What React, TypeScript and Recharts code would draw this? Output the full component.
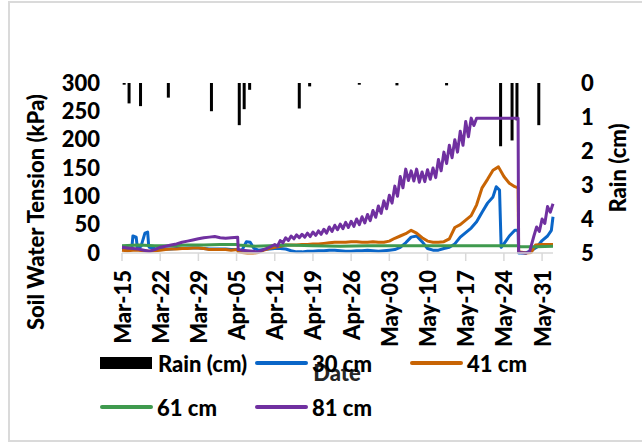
import React from 'react';
import { ComposedChart, Line, Bar, XAxis, YAxis, Legend } from 'recharts';

// ---- tick labels / categories ----
const dateTicks = [0, 7, 14, 21, 28, 35, 42, 49, 56, 63, 70, 77];
const dateLabels = ['Mar-15', 'Mar-22', 'Mar-29', 'Apr-05', 'Apr-12', 'Apr-19', 'Apr-26', 'May-03', 'May-10', 'May-17', 'May-24', 'May-31'];
const kpaTicks = [0, 50, 100, 150, 200, 250, 300];
const rainTicks = [0, 1, 2, 3, 4, 5];

// ---- rain (day since Mar-15, cm) ----
const rainDays = [0.4, 1.3, 3.4, 8.5, 16.4, 21.5, 22.4, 23.4, 32.5, 34.4, 43.5, 50.4, 59.5, 69.4, 71.5, 72.4, 76.4];
const rainCm = [0.05, 0.6, 0.68, 0.43, 0.83, 1.24, 0.77, 0.2, 0.75, 0.1, 0.05, 0.07, 0.07, 1.86, 1.69, 1.1, 1.24];

// ---- soil water tension (day, kPa) ----
const tension30: [number, number][] = [
  [0, 8], [1, 8], [1.8, 8], [2, 30], [2.6, 28], [2.8, 10], [3.5, 12], [4.2, 35], [4.7, 37], [4.9, 12], [5, 10], [6, 8], [7, 7], [8, 7], [9, 7], [10, 8],
  [11, 8], [12, 9], [13, 9], [14, 9], [15, 8], [16, 7], [17, 7], [18, 7], [19, 7], [20, 6], [21.2, 6], [21.3, 4], [22, 5], [22.8, 20], [23.5, 19],
  [24.2, 8], [25, 5], [26, 6], [27, 7], [28, 8], [29, 8], [30, 7], [31, 4], [32, 2], [33, 2], [34, 3], [35, 3], [36, 4], [37, 4], [38, 5], [39, 5],
  [40, 4], [41, 3], [42, 3], [43, 4], [44, 4], [45, 5], [46, 4], [47, 3], [48, 4], [49, 5], [50, 6], [51, 10], [52, 18], [53, 28], [54, 30], [55, 20],
  [56, 8], [57, 5], [58, 5], [59, 8], [60, 10], [61, 16], [62, 28], [63, 36], [64, 44], [65, 55], [66, 72], [67, 88], [68, 99], [68.6, 117], [69.2, 111],
  [69.5, 10], [70, 16], [71, 30], [72, 40], [72.6, 40], [72.7, 0], [74, 0], [75, 4], [76, 10], [77, 22], [78, 30], [78.7, 40], [79, 64],
];
const tension41: [number, number][] = [
  [0, 5], [1, 4], [2, 5], [3, 5], [4, 4], [5, 3], [6, 4], [7, 5], [8, 6], [9, 7], [10, 7], [11, 8], [12, 8], [13, 9], [14, 9], [15, 8], [16, 6], [17, 6],
  [18, 6], [19, 6], [20, 5], [21.2, 6], [21.3, 2], [22, 1], [23, 0], [24, 0], [25, 1], [26, 5], [27, 8], [28, 10], [29, 12], [30, 14], [31, 14], [32, 14],
  [33, 15], [34, 15], [35, 16], [36, 16], [37, 17], [38, 18], [39, 19], [40, 19], [41, 19], [42, 20], [43, 20], [44, 19], [45, 19], [46, 20], [47, 19],
  [48, 19], [49, 21], [50, 26], [51, 30], [52, 34], [53, 40], [54, 35], [55, 27], [56, 21], [57, 19], [58, 19], [59, 20], [60, 25], [61, 45], [62, 50],
  [63, 58], [64, 66], [65, 85], [66, 115], [67, 130], [68, 146], [69, 152], [70, 135], [71, 123], [72, 117], [72.6, 115], [72.7, 3], [73, 2], [74, 0],
  [75, 1], [75.8, 14], [77, 15], [78, 15], [79, 15],
];
const tension61: [number, number][] = [
  [0, 13], [3, 14], [6, 13], [9, 13], [12, 14], [15, 14], [18, 15], [21.2, 15], [21.3, 14], [24, 12], [27, 13], [30, 14], [35, 13], [40, 12], [45, 13],
  [50, 13], [55, 13], [60, 13], [65, 13], [70, 13], [72.6, 13], [73, 11], [76, 11], [79, 12],
];
const tension81: [number, number][] = [
  [0, 10], [1, 9], [2, 8], [3, 7], [4, 5], [5, 3], [6, 6], [7, 10], [8, 12], [9, 14], [10, 16], [11, 19], [12, 21], [13, 23], [14, 25], [15, 27], [16, 28],
  [17, 29], [18, 27], [19, 26], [20, 27], [21.2, 28], [21.3, 6], [22, 5], [23, 4], [24, 3], [25, 2], [26, 6], [27, 10],
  [28, 15], [28.5, 12], [29, 22], [29.5, 18], [30, 27], [30.5, 22], [31, 30], [31.5, 25], [32, 32], [32.5, 27], [33, 33], [33.5, 28], [34, 35], [34.5, 29],
  [35, 37], [35.5, 31], [36, 39], [36.5, 33], [37, 42], [37.5, 35], [38, 46], [38.5, 38], [39, 49], [39.5, 41], [40, 51], [40.5, 43], [41, 54], [41.5, 45],
  [42, 56], [42.5, 47], [43, 60], [43.5, 50], [44, 64], [44.5, 53], [45, 68], [45.5, 57], [46, 75], [46.5, 63], [47, 83], [47.5, 70], [48, 92], [48.5, 78],
  [49, 102], [49.5, 88], [50, 118], [50.5, 100], [51, 135], [51.5, 115], [52, 148], [52.5, 128], [53, 145], [53.5, 127], [54, 148], [54.5, 125],
  [55, 143], [55.5, 126], [56, 147], [56.5, 130], [57, 150], [57.5, 133], [58, 165], [58.5, 145], [59, 178], [59.5, 158], [60, 190], [60.5, 168],
  [61, 200], [61.5, 178], [62, 215], [62.5, 190], [63, 232], [63.5, 205], [64, 238], [64.5, 225], [65, 238], [72.6, 238], [72.7, 2], [73, 1], [74, 0],
  [74.7, 2], [75.5, 30], [76, 46], [76.5, 38], [77, 60], [77.5, 52], [78, 82], [78.5, 72], [79, 87],
];

const C30 = '#0a66c8';
const C41 = '#c86404';
const C61 = '#3f9a4e';
const C81 = '#7030a0';
const FONT = 'Lato, "Liberation Sans", sans-serif';
const FW = 900;
const FS = 22;

const toRows = (pairs: [number, number][]) => pairs.map(([day, v]) => ({ day, v }));
const rainRows = rainDays.map((day, i) => ({ day, rain: rainCm[i] }));

const legendOrder = ['Rain (cm)', '30 cm', '41 cm', '61 cm', '81 cm'];

const DateTick = (props: any) => {
  const { x, y, payload } = props;
  const label = dateLabels[dateTicks.indexOf(payload.value)];
  return (
    <text x={x} y={y} transform={`rotate(-90 ${x} ${y})`} textAnchor="end" dominantBaseline="central"
      fontSize={FS} fontWeight={FW} fontFamily={FONT} fill="#000">{label}</text>
  );
};

const RainBar = (props: any) => {
  const x = Number(props.x), y = Number(props.y);
  const w = Number(props.width) || 0, h = Number(props.height) || 0;
  if (!isFinite(x) || !isFinite(y) || h === 0) return null;
  const cx = x + w / 2;
  const top = Math.min(y, y + h);
  return <rect x={cx - 1.5} y={top} width={3} height={Math.abs(h)} fill="#000" />;
};

const LegendContent = (props: any) => {
  const items = [...(props.payload || [])].sort(
    (a: any, b: any) => legendOrder.indexOf(a.value) - legendOrder.indexOf(b.value));
  return (
    <div style={{ display: 'flex', flexWrap: 'wrap', width: 480, rowGap: 18, fontFamily: FONT }}>
      {items.map((it: any) => (
        <div key={it.value} style={{ width: 155, height: 26, display: 'flex', alignItems: 'center' }}>
          {it.value === 'Rain (cm)'
            ? <div style={{ width: 52, height: 12, background: '#000', marginRight: 6 }} />
            : <div style={{ width: 53, height: 4, borderRadius: 2, background: it.color, marginRight: 4 }} />}
          <span style={{ fontSize: FS, fontWeight: FW, color: '#000', whiteSpace: 'nowrap' }}>{it.value}</span>
        </div>
      ))}
    </div>
  );
};

export default function App() {
  return (
    <div style={{ position: 'absolute', left: 0, top: 0, width: 642, height: 444, background: '#fff' }}>
      <div style={{ position: 'absolute', left: 8, top: 1, width: 700, height: 437, border: '2px solid #dadada' }} />
      <div style={{ position: 'absolute', left: 0, top: 0 }}>
        <ComposedChart width={642} height={444} data={rainRows}
          margin={{ top: 83, right: 29, bottom: 101, left: 62 }} style={{ fontFamily: FONT }}>
          <XAxis xAxisId="d" type="number" dataKey="day" domain={[0, 79]} ticks={dateTicks} interval={0}
            axisLine={{ stroke: '#d9d9d9', strokeWidth: 1.5 }} tickLine={{ stroke: '#d9d9d9', strokeWidth: 1.5 }}
            tickSize={8} tickMargin={9} height={90} tick={<DateTick />}
            label={{ content: () => (
              <text x={337} y={372} textAnchor="middle" dominantBaseline="central" fontSize={FS} fontWeight={FW}
                fontFamily={FONT} fill="#262626">Date</text>) }} />
          <YAxis yAxisId="kpa" domain={[0, 300]} ticks={kpaTicks} interval={0} width={60} axisLine={false} tickLine={false}
            tickSize={0} tickMargin={22} tick={{ fontSize: FS, fontWeight: FW, fill: '#000', fontFamily: FONT }}
            label={{ content: () => (
              <text x={35} y={212} transform="rotate(-90 35 212)" textAnchor="middle" dominantBaseline="central"
                fontSize={FS} fontWeight={FW} fontFamily={FONT} fill="#000">Soil Water Tension  (kPa)</text>) }} />
          <YAxis yAxisId="rain" orientation="right" reversed domain={[0, 5]} ticks={rainTicks} interval={0} width={60}
            axisLine={false} tickLine={false} tickSize={0} tickMargin={28}
            tick={{ fontSize: FS, fontWeight: FW, fill: '#000', fontFamily: FONT, textAnchor: 'start' }}
            label={{ content: () => (
              <text x={617} y={168} transform="rotate(-90 617 168)" textAnchor="middle" dominantBaseline="central"
                fontSize={FS} fontWeight={FW} fontFamily={FONT} fill="#000">Rain (cm)</text>) }} />
          <Line xAxisId="d" yAxisId="kpa" data={toRows(tension30)} dataKey="v" name="30 cm" stroke={C30} strokeWidth={3}
            dot={false} activeDot={false} isAnimationActive={false} strokeLinejoin="round" />
          <Line xAxisId="d" yAxisId="kpa" data={toRows(tension41)} dataKey="v" name="41 cm" stroke={C41} strokeWidth={3}
            dot={false} activeDot={false} isAnimationActive={false} strokeLinejoin="round" />
          <Line xAxisId="d" yAxisId="kpa" data={toRows(tension61)} dataKey="v" name="61 cm" stroke={C61} strokeWidth={3}
            dot={false} activeDot={false} isAnimationActive={false} strokeLinejoin="round" />
          <Line xAxisId="d" yAxisId="kpa" data={toRows(tension81)} dataKey="v" name="81 cm" stroke={C81} strokeWidth={3}
            dot={false} activeDot={false} isAnimationActive={false} strokeLinejoin="round" />
          <Bar xAxisId="d" yAxisId="rain" dataKey="rain" name="Rain (cm)" fill="#000" barSize={3} shape={(p: any) => <RainBar {...p} />}
            isAnimationActive={false} />
          <Legend layout="horizontal" verticalAlign="middle" align="center" content={<LegendContent />}
            wrapperStyle={{ position: 'absolute', left: 100, top: 350, width: 480, height: 70 }} />
        </ComposedChart>
      </div>
    </div>
  );
}
